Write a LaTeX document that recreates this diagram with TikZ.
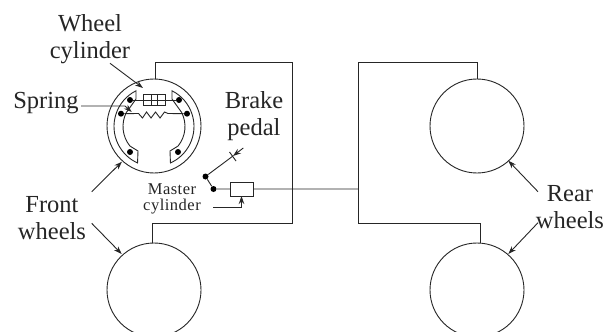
\documentclass[tikz,border=0pt]{standalone}
\usepackage{fontspec}
\setmainfont{Liberation Serif}
\newfontfamily\smallserif[LetterSpace=3]{Liberation Serif}
\usetikzlibrary{arrows.meta}
\tikzset{
  wheel/.style={draw,circle,minimum size=94pt,inner sep=0pt,outer sep=0pt},
  lbl/.style={anchor=base,inner sep=0pt,outer sep=0pt,font=\fontsize{24.5}{27}\selectfont,text=black!85},
  smalllbl/.style={anchor=base,inner sep=0pt,outer sep=0pt,align=center,font=\smallserif\fontsize{16.5}{16}\selectfont,text=black!85},
  dot/.style={circle,fill,inner sep=0pt,minimum size=6pt},
  ln/.style={line width=0.9pt,draw=black!85},
  arr/.style={ln,-{Stealth[length=8pt,width=5.5pt]}},
}
\begin{document}
\begin{tikzpicture}[x=1pt,y=-1pt,line width=0.9pt]
\useasboundingbox (0,0) rectangle (606,332);
\clip (0,0) rectangle (606,332);
\fill[white] (0,0) rectangle (606,332);
% wheels
\node[wheel,ln] (fl) at (154,126) {};
\node[wheel,ln] (bl) at (154,290) {};
\node[wheel,ln] (fr) at (477,126) {};
\node[wheel,ln] (br) at (477,290) {};
% brake shoes
\foreach \s in {1,-1}{
\begin{scope}[shift={(154,126.5)},xscale=\s]
\draw[ln] (116.7:40pt) arc[start angle=116.7,end angle=245.7,radius=40pt]
  -- (-16,24.5) -- (219:31pt) arc[start angle=219,end angle=153,radius=31pt]
  -- (-18,-27.5) -- cycle;
\end{scope}}
% pivot dots
\node[dot] (d1) at (130,100) {};
\node[dot] (d2) at (179,100) {};
\node[dot] (d3) at (121,113.7) {};
\node[dot] (d4) at (187,113.7) {};
\node[dot] (d5) at (130,152) {};
\node[dot] (d6) at (178,152) {};
% wheel cylinder
\draw[ln] (d1) -- (d2);
\node[draw=black!85,line width=0.9pt,fill=none,minimum width=22pt,minimum height=11.5pt,inner sep=0pt,outer sep=0pt] (wc) at (154,100) {};
\draw[ln] (151,94.2) -- (151,105.8) (157,94.2) -- (157,105.8);
% spring
\coordinate (sl) at (138.5,113.5);
\coordinate (sr) at (168,113.5);
\draw[ln] (d3) -- (sl) -- (142.5,118) -- (146.5,112) -- (151,118) -- (155.5,112) -- (160,118) -- (164.5,112) -- (sr) -- (d4);
% hydraulic lines
\coordinate (a1) at (155,79);
\coordinate (a2) at (292,62);
\coordinate (a3) at (292,223);
\coordinate (a4) at (152,243);
\draw[ln] (a1) |- (a2) -- (a3) -| (a4);
\coordinate (b1) at (477,79);
\coordinate (b2) at (358,62);
\coordinate (b3) at (358,223);
\coordinate (b4) at (480,243);
\draw[ln] (b1) |- (b2) -- (b3) -| (b4);
% master cylinder
\node[dot] (p1) at (205.5,176.5) {};
\node[dot] (p2) at (213.5,189) {};
\node[draw=black!85,line width=0.9pt,minimum width=23pt,minimum height=14pt,inner sep=0pt,outer sep=0pt] (mc) at (241.5,189) {};
\coordinate (j) at (358,189);
\draw[ln] (p2) -- (mc) (mc) -- (j) (p1) -- (p2);
\coordinate (lv) at (243.3,148);
\coordinate (lx) at (233,156);
\draw[ln] (p1) -- (lx);
\draw[arr] (lv) -- (lx);
\draw[ln] (229.5,152) -- (236,161);
% labels
\node[lbl] (t1) at (90,31) {Wheel};
\node[lbl] (t2) at (90,58) {cylinder};
\node[lbl] (t3) at (46,108) {Spring};
\node[lbl] (t4) at (254,108) {Brake};
\node[lbl] (t5) at (254,135) {pedal};
\node[smalllbl] (t6) at (172,210.5) {Master\\cylinder};
\node[lbl] (t8) at (52,212.7) {Front};
\node[lbl] (t9) at (52,239) {wheels};
\node[lbl] (t10) at (570,201.7) {Rear};
\node[lbl] (t11) at (570,228) {wheels};
% arrows
\coordinate (w0) at (110,63.3);
\draw[arr] (w0) -- (143,88);
\coordinate (s0) at (81,106);
\coordinate (s1) at (125,106);
\draw[arr] (s0) -- (s1) -- (131.7,112);
\coordinate (m0) at (213,207.5);
\draw[arr] (m0) -| (mc.south);
\coordinate (f0) at (91.7,191.7);
\coordinate (f1) at (91.7,223.3);
\draw[arr] (f0) -- (122,161.7);
\draw[arr] (f1) -- (121.7,254);
\coordinate (r0) at (538,191.7);
\coordinate (r1) at (538,222.7);
\draw[arr] (r0) -- (508.3,160.7);
\draw[arr] (r1) -- (508.3,254);
\end{tikzpicture}
\end{document}
